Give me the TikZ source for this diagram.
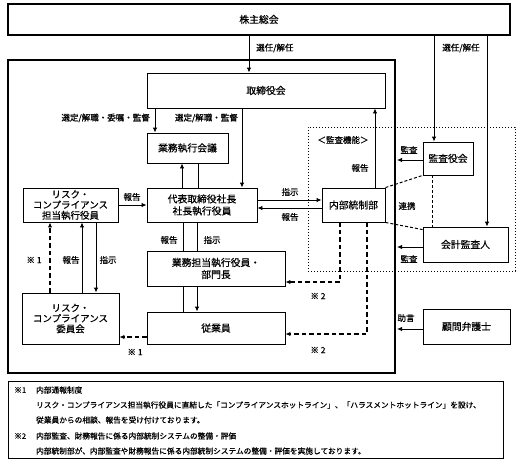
\documentclass[tikz,border=0pt]{standalone}
\usepackage{fontspec}
\setmainfont{Noto Sans CJK JP}[FakeBold=0.6]
\usetikzlibrary{arrows.meta,calc}
\begin{document}
\begin{tikzpicture}[x=1pt,y=-1pt,
  box/.style={draw, line width=0.9pt, inner sep=0pt, align=center, font=\fontsize{9.8}{12}\selectfont},
  lbl/.style={font=\fontsize{8.5}{10}\selectfont, inner sep=0pt},
  nt/.style={font=\fontsize{7.7}{9}\selectfont, inner sep=0pt, anchor=west},
  arr/.style={line width=0.9pt, -{Latex[length=5pt,width=4.5pt]}},
  ln/.style={line width=0.9pt},
  darr/.style={line width=1.6pt, dash pattern=on 4.5pt off 3pt, -{Latex[length=5pt,width=4.5pt]}},
  dln/.style={line width=1pt, dash pattern=on 3pt off 2pt},
]
\useasboundingbox (0,0) rectangle (520,461);

\node[box, line width=1.6pt, minimum width=502pt, minimum height=31pt] (kabu) at (259,19.5) {株主総会};
\node[draw, line width=2pt, minimum width=387pt, minimum height=313pt, inner sep=0pt] (company) at (201.5,216.5) {};
\node[draw, dotted, line width=1pt, minimum width=207pt, minimum height=144pt, inner sep=0pt] (audit) at (411.5,199) {};
\node[box, minimum width=238pt, minimum height=35pt] (board) at (266,90.5) {取締役会};
\node[box, minimum width=81pt, minimum height=30pt] (meeting) at (187.5,148) {業務執行会議};
\node[box, minimum width=110pt, minimum height=34pt] (ceo) at (202,205) {代表取締役社長\\社長執行役員};
\node[box, minimum width=63pt, minimum height=34pt] (ic) at (353.5,205) {内部統制部};
\node[box, minimum width=95pt, minimum height=34pt, font=\fontsize{9.5}{10.5}\selectfont] (rco) at (70.5,205) {リスク・\\コンプライアンス\\担当執行役員};
\node[box, minimum width=97pt, minimum height=51pt, font=\fontsize{9.5}{10.5}\selectfont] (rcc) at (70.5,318.5) {リスク・\\コンプライアンス\\委員会};
\node[box, minimum width=138pt, minimum height=35pt] (div) at (216,268.5) {業務担当執行役員・\\部門長};
\node[box, minimum width=138pt, minimum height=32pt] (emp) at (216,328) {従業員};
\node[box, minimum width=50pt, minimum height=33pt] (asb) at (448,158.5) {監査役会};
\node[box, minimum width=85pt, minimum height=35pt] (acc) at (465.5,244.5) {会計監査人};
\node[box, minimum width=87pt, minimum height=35pt] (law) at (466.5,326.5) {顧問弁護士};

% shareholders
\draw[arr] ($(kabu.south -| board.north)+(-17,0)$) -- ($(board.north)+(-17,0)$);
\node[lbl, anchor=west] (l1) at (256,48) {選任/解任};
\draw[arr] ($(kabu.south -| asb.north)+(-14,0)$) -- ($(asb.north)+(-14,0)$);
\draw[arr] ($(kabu.south -| acc.north)+(21.5,0)$) -- ($(acc.north)+(21.5,0)$);
\node[lbl] (l2) at (461,48) {選任/解任};

% board
\draw[arr] ($(board.south -| meeting.north)+(-32.5,0)$) -- ($(meeting.north)+(-32.5,0)$);
\node[lbl, anchor=east] (l3) at (150,118) {選定/解職・委嘱・監督};
\draw[arr] ($(board.south -| ceo.north)+(40,0)$) -- ($(ceo.north)+(40,0)$);
\node[lbl, anchor=east] (l4) at (238,118) {選定/解職・監督};

% ceo - meeting
\draw[arr] ($(ceo.north)+(-20,0)$) -- ($(meeting.south -| ceo.north)+(-20,0)$);
\draw[ln] ($(ceo.north)+(-4,0)$) -- ($(meeting.south -| ceo.north)+(-4,0)$);

% ceo - internal control
\draw[arr] ($(ceo.east)+(0,-5)$) -- ($(ic.west)+(0,-5)$);
\draw[arr] ($(ic.west)+(0,3)$) -- ($(ceo.east)+(0,3)$);
\node[lbl] (l5) at (290,192) {指示};
\node[lbl] (l6) at (290,217) {報告};

% ic -> board
\draw[arr] ($(ic.north)+(21.5,0)$) -- ($(board.south -| ic.north)+(21.5,0)$);
\node[lbl] (l7) at (360,168) {報告};

% risk officer -> ceo
\draw[arr] (rco.east) -- (ceo.west);
\node[lbl] (l8) at (132,197) {報告};

% risk committee <-> risk officer
\draw[darr] ($(rcc.north)+(-20.5,0)$) -- ($(rco.south)+(-20.5,0)$);
\draw[arr] ($(rcc.north)+(11.5,0)$) -- ($(rco.south)+(11.5,0)$);
\draw[arr] ($(rco.south)+(25.5,0)$) -- ($(rcc.north)+(25.5,0)$);
\node[lbl] (l9) at (34,260) {※ 1};
\node[lbl] (l10) at (71,260) {報告};
\node[lbl] (l11) at (108,260) {指示};

% ceo - division
\draw[ln] ($(ceo.south)+(-19,0)$) -- ($(div.north -| ceo.south)+(-19,0)$);
\draw[ln] ($(ceo.south)+(-5,0)$) -- ($(div.north -| ceo.south)+(-5,0)$);
\node[lbl] (l12) at (169,240) {報告};
\node[lbl] (l13) at (212,240) {指示};

% division - employees
\draw[ln] ($(div.south)+(-33,0)$) -- ($(emp.north)+(-33,0)$);
\draw[arr] ($(div.south)+(-19,0)$) -- ($(emp.north)+(-19,0)$);

% internal control dashed
\draw[darr] ($(ic.south)+(-13.5,0)$) |- ($(div.east)+(0,13.5)$);
\draw[darr] ($(ic.south)+(13.5,0)$) |- ($(emp.east)+(0,6)$);
\node[lbl] (l14) at (318,296) {※ 2};
\node[lbl] (l15) at (318,350) {※ 2};

% employees -> committee
\draw[darr] ($(emp.west)+(0,9)$) -- ($(rcc.east)+(0,18.5)$);
\node[lbl] (l16) at (135,352) {※ 1};

% audit
\draw[arr, shorten >=1pt] ($(asb.west)+(0,1.5)$) -- ($(company.east |- asb.west)+(0,1.5)$);
\node[lbl] (l17) at (409,150) {監査};
\draw[arr, shorten >=1pt] ($(acc.west)+(0,2.5)$) -- ($(company.east |- acc.west)+(0,2.5)$);
\node[lbl] (l18) at (409,259) {監査};
\draw[arr, shorten >=1pt] ($(law.west)+(0,2.5)$) -- ($(company.east |- law.west)+(0,2.5)$);
\node[lbl] (l19) at (406,318) {助言};

\draw[dln] (ic.north east) -- (asb.south west);
\draw[dln] (ic.south east) -- ($(acc.north west)+(0,3)$);
\draw[dln] ($(asb.south)+(-16,0)$) -- ($(acc.north -| asb.south)+(-16,0)$);
\node[lbl] (l20) at (407,206) {連携};
\node[lbl] (l21) at (343,140) {＜監査機能＞};

% notes
\node[draw, line width=1pt, minimum width=495pt, minimum height=77pt, inner sep=0pt] (note) at (255.5,419.5) {};
\node[nt] (n1a) at (14,390) {※1};
\node[nt] (n1) at (36,390) {内部通報制度};
\node[nt] (n2) at (36,405) {リスク・コンプライアンス担当執行役員に直結した「コンプライアンスホットライン」、「ハラスメントホットライン」を設け、};
\node[nt] (n3) at (36,420) {従業員からの相談、報告を受け付けております。};
\node[nt] (n4a) at (14,436) {※2};
\node[nt] (n4) at (36,436) {内部監査、財務報告に係る内部統制システムの整備・評価};
\node[nt] (n5) at (36,451) {内部統制部が、内部監査や財務報告に係る内部統制システムの整備・評価を実施しております。};
\end{tikzpicture}
\end{document}
